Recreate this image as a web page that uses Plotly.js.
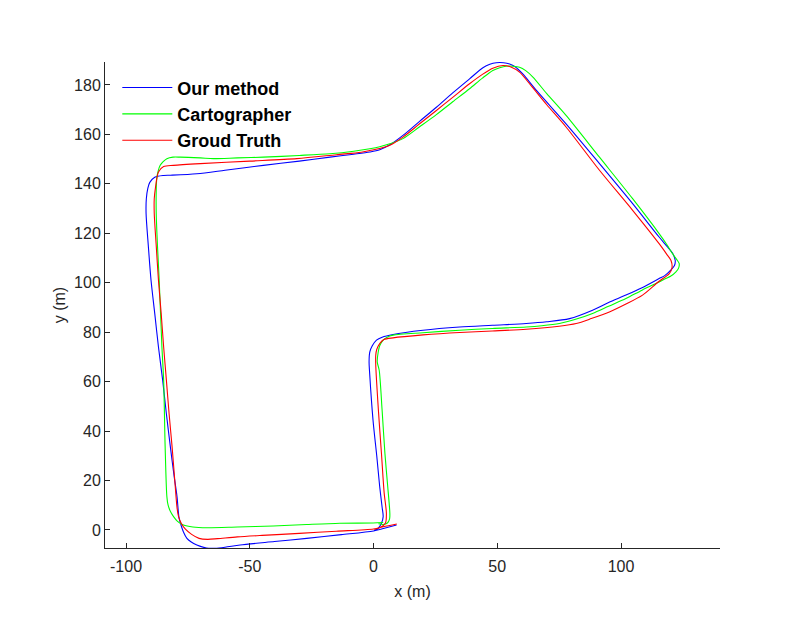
<!DOCTYPE html>
<html>
<head>
<meta charset="utf-8">
<script src="https://cdn.plot.ly/plotly-3.0.1.min.js"></script>
<style>html,body{margin:0;padding:0;background:#fff;}#chart{width:798px;height:633px;}</style>
</head>
<body>
<div id="chart"></div>
<script>
// Series names
const seriesNames = ["Our method", "Cartographer", "Groud Truth"];

// Tick values and labels
const xTickVals = [-100, -50, 0, 50, 100];
const xTickText = ["-100", "-50", "0", "50", "100"];
const yTickVals = [0, 20, 40, 60, 80, 100, 120, 140, 160, 180];

// Our method (blue)
const ourX = [9.3, 4, 0, -13, -27, -40, -53.9, -60, -64, -67.5, -71.4, -73.8, -75.4, -76.8, -77.8, -78.6, -79.4, -80.6, -82.1, -83.7, -85.2, -86.9, -88.4, -89.9, -91.0, -91.9, -91.8, -91.2, -90.4, -88.4, -84.8, -82.1, -71.4, -60, -44.5, -30, -17.6, -8, -1.5, 2.5, 6.6, 11.9, 18.5, 25.4, 32, 38.8, 44.2, 47, 49.6, 52.5, 55, 57.2, 60.3, 66, 77.8, 91.3, 104.7, 115.4, 118.8, 120.8, 121.9, 121.6, 120.2, 117.8, 115.4, 108.5, 102, 95, 88.5, 79.2, 70, 61.7, 48, 34.8, 20, 7.9, 3.5, 1.2, -0.5, -1.5, -1.8, -1.6, -0.2, 1.3, 2.5, 3.5, 3.9, 3.2, 1.9, 0.2];
const ourY = [2.0, 0.6, -0.4, -1.9, -3.4, -4.7, -6.1, -7.0, -7.4, -7.3, -6.1, -4.8, -3.4, -0.8, 2.0, 5.0, 13.5, 22, 33.7, 47, 60.6, 74, 87.6, 101, 115, 128, 134, 138.2, 140.6, 142.7, 143.4, 143.5, 144.1, 145.5, 147.5, 149.2, 150.8, 152.0, 152.9, 153.8, 155.8, 159.6, 165.2, 171, 176.8, 182.5, 187.0, 188.4, 189.0, 189.0, 188.5, 187.4, 184.5, 177.6, 164.3, 148.2, 132, 118.5, 114.5, 112, 109.1, 107, 105.2, 103, 101.7, 98, 95, 92, 88.9, 85.5, 84.2, 83.5, 82.8, 82.1, 80.8, 79.1, 78, 76.8, 74.5, 72, 68, 64, 44.4, 30, 17.5, 9, 5.4, 2.7, 0.7, -0.2];

// Cartographer (green)
const cartoX = [3.9, -0.2, -13.6, -27, -40.5, -55, -67.3, -73, -76.8, -79.2, -80.8, -82.2, -83.0, -83.5, -84.2, -84.8, -85.5, -86.6, -87.3, -87.8, -87.8, -87.6, -87, -86.2, -85, -83.5, -81, -78.1, -70, -64.7, -55, -44.5, -30, -17.6, -8, -1.5, 2.5, 6.6, 11.9, 18.5, 25.4, 32, 38.8, 44, 48.2, 51, 53.6, 56.5, 59, 61.5, 64.4, 70, 77.8, 91.3, 104.7, 115.4, 118.5, 120.8, 122.8, 123.5, 123.3, 122.2, 120, 118.1, 115.4, 108.5, 102, 95, 88.5, 81, 75.1, 68, 61.7, 48, 34.8, 20, 7.9, 5.5, 3.9, 2.5, 1.9, 1.5, 2.3, 3.5, 4.6, 5.7, 6.6, 6.5, 5.6, 3.9, 2.0];
const cartoY = [3.0, 2.8, 2.7, 2.2, 1.6, 1.2, 0.9, 1.2, 2.0, 3.5, 5.4, 7.8, 10, 13.5, 33.7, 60.6, 74, 101, 115, 128, 137.4, 142, 145.3, 147.5, 149, 150.2, 150.8, 150.8, 150.5, 150.2, 150.5, 150.8, 151.5, 152.2, 153.2, 154.2, 155, 156.2, 158.3, 163, 168, 173.2, 178.5, 182.8, 185.9, 187, 187.6, 187.6, 187.2, 185.8, 183.2, 176.5, 167.7, 150.8, 134, 119.9, 115.5, 111.8, 109, 107.8, 106, 104.4, 102.6, 101.7, 100.3, 97, 93.6, 90.5, 87.6, 85, 83.5, 82.6, 82.1, 81.5, 80.8, 79.8, 78.8, 78, 76.8, 74.5, 72, 68, 64.6, 48, 31, 18, 6.7, 4.5, 2.8, 2.2, 2.5];

// Groud Truth (red)
const gtX = [9.4, 4, 0, -15, -30, -45, -55, -63, -67, -70.5, -73.5, -76, -77.6, -78.8, -79.4, -80.3, -81.4, -82.6, -83.7, -84.8, -85.8, -86.9, -87.8, -88.6, -88.6, -88.2, -86.9, -84.8, -80.8, -70, -50, -31, -15, -5, -1.5, 2.5, 6.6, 11.9, 18.5, 25.4, 32, 38.8, 44, 48.2, 52.3, 55.5, 59, 64, 70, 77.8, 91.3, 104.7, 115.4, 118.5, 120.2, 120.6, 119.5, 115, 108.7, 102, 95.3, 88, 81.9, 75, 61.7, 48, 34.8, 20, 7.9, 4.2, 2.5, 1.3, 0.9, 0.9, 2.0, 3.2, 4.3, 5.2, 4.8, 2.5, 0.3];
const gtY = [2.4, 1.3, 0.4, -0.5, -1.4, -2.2, -2.8, -3.5, -3.8, -3.4, -1.8, 0.3, 2.5, 5.5, 9, 20, 33.7, 47, 60.6, 74, 87.6, 101, 115, 128, 134, 137.8, 144.8, 147, 147.5, 148.2, 149.2, 150.2, 151.8, 152.8, 153.5, 154.3, 155.6, 158.9, 164.2, 169.7, 175, 180.5, 184.3, 186.8, 187.9, 187.3, 185.2, 179.3, 172, 163, 145.5, 129.3, 115.8, 111.5, 109, 106, 103.7, 100.3, 95, 91.4, 88.2, 85.5, 83.5, 82.4, 81.2, 80.5, 79.9, 78.9, 77.7, 77, 75.4, 73, 70.7, 66.7, 48, 31, 15, 6.7, 2.7, 0.9, 0.3];

const colors = ["#0000FF", "#00FF00", "#FF0000"];
const xs = [ourX, cartoX, gtX];
const ys = [ourY, cartoY, gtY];

const traces = xs.map((x, i) => ({
  x: x, y: ys[i], type: "scatter", mode: "lines", name: seriesNames[i],
  line: {color: colors[i], width: 1.1, shape: "spline", smoothing: 0.8}
}));

const axisFont = {family: "Liberation Sans, Arial, sans-serif", size: 16, color: "#262626"};

const layout = {
  width: 798, height: 633,
  margin: {l: 105, r: 78, t: 62, b: 85},
  paper_bgcolor: "#ffffff", plot_bgcolor: "#ffffff",
  showlegend: true,
  legend: {x: 0.02, y: 0.985, xanchor: "left", yanchor: "top", bgcolor: "rgba(0,0,0,0)",
    font: {family: "Liberation Sans, Arial, sans-serif", size: 18, color: "#000000", weight: "bold"},
    itemwidth: 50, tracegroupgap: 0},
  xaxis: {range: [-108.5, 140], tickvals: xTickVals, ticktext: xTickText, ticks: "inside", ticklen: 5,
    tickcolor: "#262626", showline: true, linecolor: "#262626", linewidth: 1, mirror: false,
    showgrid: false, zeroline: false, tickfont: axisFont, ticklabelstandoff: 4,
    title: {text: "x (m)", font: axisFont, standoff: 11}},
  yaxis: {range: [-7.3, 189.3], tickvals: yTickVals, ticks: "inside", ticklen: 5,
    tickcolor: "#262626", showline: true, linecolor: "#262626", linewidth: 1, mirror: false,
    showgrid: false, zeroline: false, tickfont: axisFont,
    title: {text: "y (m)", font: axisFont, standoff: 4}}
};

Plotly.newPlot("chart", traces, layout, {staticPlot: true, displayModeBar: false});
</script>
</body>
</html>
